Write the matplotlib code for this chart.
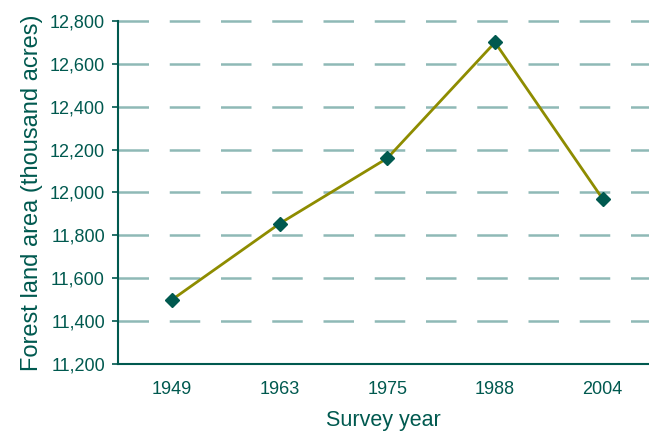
import matplotlib
matplotlib.use("Agg")
import matplotlib.pyplot as plt
import matplotlib.ticker as ticker

years = ["1949", "1963", "1975", "1988", "2004"]
area = [11500, 11855, 12160, 12700, 11970]

teal = "#00594f"
grid_c = "#8fb9b6"
olive = "#8e8c00"

plt.rcParams['font.family'] = ['Liberation Sans', 'DejaVu Sans']

fig = plt.figure(figsize=(6.49, 4.36), dpi=100)
ax = fig.add_axes([0.182, 0.165, 0.818, 0.787])

x = list(range(len(years)))
ax.plot(x, area, color=olive, lw=2, zorder=3)
ax.plot(x, area, ls="none", marker="D", ms=7, color=teal, zorder=4)

ax.set_ylim(11200, 12800)
ax.set_xlim(-0.5, 4.43)
ax.set_xticks(x)
ax.set_xticklabels(years)
ax.yaxis.set_major_locator(ticker.MultipleLocator(200))
ax.yaxis.set_major_formatter(ticker.StrMethodFormatter("{x:,.0f}"))

for yv in range(11400, 12801, 200):
    ax.plot([-0.5, 4.43], [yv, yv], color=grid_c, lw=1.8, dashes=(12.2, 8.3),
            zorder=1, clip_on=False)

for s in ["top", "right"]:
    ax.spines[s].set_visible(False)
for s in ["left", "bottom"]:
    ax.spines[s].set_color(teal)
    ax.spines[s].set_linewidth(1.5)
    ax.spines[s].set_zorder(2)

ax.tick_params(axis="y", colors=teal, labelsize=13, length=4, width=1.2, pad=5.5)
ax.tick_params(axis="x", colors=teal, labelsize=13, length=0, pad=12)

ax.set_xlabel("Survey year", color=teal, fontsize=15.5, labelpad=9)
ax.set_ylabel("Forest land area (thousand acres)", color=teal, fontsize=17, labelpad=5)

fig.savefig("out.png", dpi=100)
